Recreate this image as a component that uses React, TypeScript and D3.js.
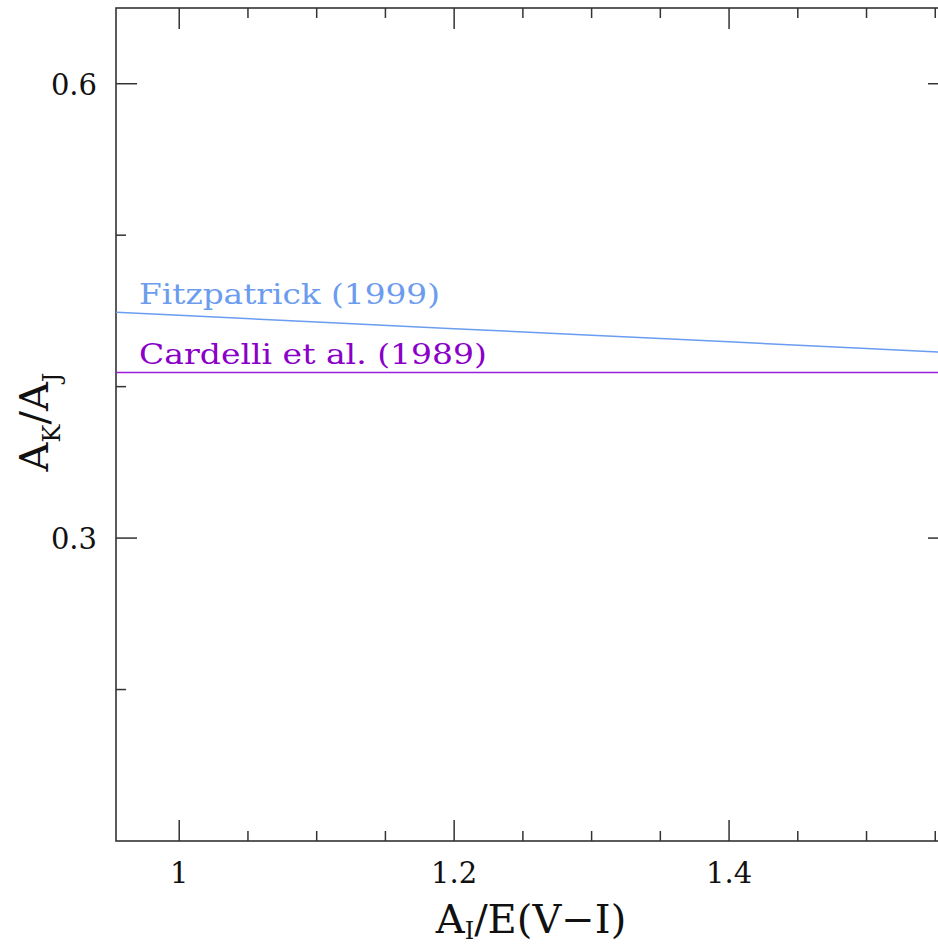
import React, { useRef, useEffect } from "react";
import * as d3 from "d3";

const fitzX = [0.95, 1.0, 1.1, 1.2, 1.3, 1.4, 1.5, 1.6];
const fitzY = [0.4493, 0.4471, 0.4427, 0.4383, 0.4339, 0.4296, 0.4252, 0.4208];
const cardX = [0.95, 1.0, 1.2, 1.4, 1.6];
const cardY = [0.4093, 0.4093, 0.4093, 0.4093, 0.4093];

const xMajor = [1, 1.2, 1.4];
const xMinor = [1.05, 1.1, 1.15, 1.25, 1.3, 1.35, 1.45, 1.5, 1.55];
const yMajor = [0.3, 0.6];
const yMinor = [0.2, 0.4, 0.5];

const series = [
  { name: "Fitzpatrick (1999)", xs: fitzX, ys: fitzY, color: "#6a9cf0", text: "#6c9cee", len: 301, labelY: 0.4546 },
  { name: "Cardelli et al. (1989)", xs: cardX, ys: cardY, color: "#9a1ed8", text: "#8a00c8", len: 348, labelY: 0.415 },
];

const FONT = "'DejaVu Serif', serif";

const App: React.FC = () => {
  const ref = useRef<SVGSVGElement>(null);

  useEffect(() => {
    if (!ref.current) return;
    const svg = d3.select(ref.current);
    svg.selectAll("*").remove();

    const left = 116, right = 949, top = 8, bottom = 841;
    const x = d3.scaleLinear().domain([0.954, 1.56]).range([left, right]);
    const y = d3.scaleLinear().domain([0.1, 0.65]).range([bottom, top]);

    svg.append("defs").append("clipPath").attr("id", "plot")
      .append("rect").attr("x", left).attr("y", top)
      .attr("width", right - left).attr("height", bottom - top);

    const axisColor = "#333";
    const major = 21, minor = 10;

    // frame
    svg.append("rect")
      .attr("x", left).attr("y", top)
      .attr("width", right - left).attr("height", bottom - top)
      .attr("fill", "none").attr("stroke", axisColor).attr("stroke-width", 1.6);

    const ticks = svg.append("g").attr("stroke", axisColor).attr("stroke-width", 1.5);
    const xt = (v: number, l: number) => {
      ticks.append("line").attr("x1", x(v)).attr("x2", x(v)).attr("y1", bottom).attr("y2", bottom - l);
      ticks.append("line").attr("x1", x(v)).attr("x2", x(v)).attr("y1", top).attr("y2", top + l);
    };
    const yt = (v: number, l: number) => {
      ticks.append("line").attr("y1", y(v)).attr("y2", y(v)).attr("x1", left).attr("x2", left + l);
      ticks.append("line").attr("y1", y(v)).attr("y2", y(v)).attr("x1", right).attr("x2", right - l);
    };
    xMajor.forEach((v) => xt(v, major));
    xMinor.forEach((v) => xt(v, minor));
    yMajor.forEach((v) => yt(v, major));
    yMinor.forEach((v) => yt(v, minor));

    const lbl = svg.append("g").attr("font-family", FONT).attr("font-size", 29).attr("fill", "#111");
    xMajor.forEach((v) => {
      lbl.append("text").attr("x", x(v)).attr("y", 883).attr("text-anchor", "middle").text(d3.format("")(v));
    });
    yMajor.forEach((v) => {
      lbl.append("text").attr("x", 97).attr("y", y(v) + 11).attr("text-anchor", "end").text(v.toFixed(1));
    });

    // series
    const plot = svg.append("g").attr("clip-path", "url(#plot)");
    series.forEach((s) => {
      const pts = s.xs.map((xv, i) => [xv, s.ys[i]] as [number, number]);
      const line = d3.line<[number, number]>().x((d) => x(d[0])).y((d) => y(d[1]));
      plot.append("path").datum(pts).attr("fill", "none")
        .attr("stroke", s.color).attr("stroke-width", 1.5).attr("d", line);
      svg.append("text")
        .attr("x", 139).attr("y", y(s.labelY))
        .attr("font-family", FONT).attr("font-size", 27)
        .attr("fill", s.text)
        .attr("textLength", s.len).attr("lengthAdjust", "spacingAndGlyphs")
        .text(s.name);
    });

    // axis titles
    const xt2 = svg.append("text").attr("x", 531).attr("y", 933)
      .attr("text-anchor", "middle").attr("font-family", FONT).attr("font-size", 40).attr("fill", "#111");
    xt2.append("tspan").text("A");
    xt2.append("tspan").attr("font-size", 24).attr("dy", 6).text("I");
    xt2.append("tspan").attr("dy", -6).text("/E(V\u2212I)");

    const yt2 = svg.append("text")
      .attr("transform", "translate(48,422) rotate(-90)")
      .attr("text-anchor", "middle").attr("font-family", FONT).attr("font-size", 40).attr("fill", "#111");
    yt2.append("tspan").text("A");
    yt2.append("tspan").attr("font-size", 24).attr("dy", 12).text("K");
    yt2.append("tspan").attr("dy", -12).text("/A");
    yt2.append("tspan").attr("font-size", 24).attr("dy", 12).text("J");
  }, []);

  return (
    <svg
      ref={ref}
      width={938}
      height={945}
      style={{ position: "absolute", left: 0, top: 0, background: "#fff" }}
    ></svg>
  );
};

export default App;
